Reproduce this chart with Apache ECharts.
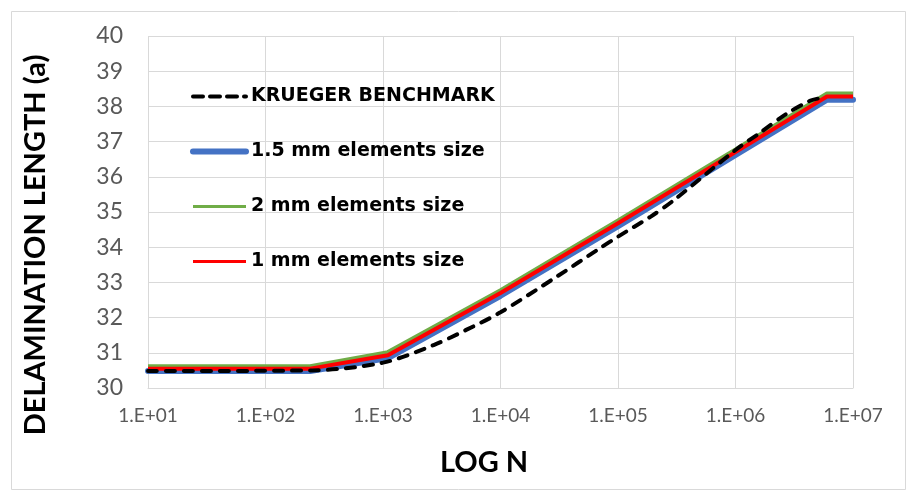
<!DOCTYPE html>
<html>
<head>
<meta charset="utf-8">
<script src="https://cdn.jsdelivr.net/npm/echarts@6/dist/echarts.min.js"></script>
<style>
  html, body { margin: 0; padding: 0; background: #fff; }
  #chart { width: 911px; height: 496px; }
</style>
</head>
<body>
<div id="chart"></div>
<script>
// cycles N vs delamination length
const kruegerN = [10, 250, 1000, 2700, 5100, 10000, 30000, 70000, 100000, 190000, 300000, 1000000, 1600000, 2750000, 4300000, 5000000];
const kruegerA = [30.48, 30.5, 30.72, 31.22, 31.65, 32.15, 33.16, 33.97, 34.3, 34.87, 35.34, 36.76, 37.24, 37.8, 38.16, 38.22];

const meshN = [10, 240, 1100, 10000, 100000, 1000000, 6000000, 10000000];
const mesh15A = [30.48, 30.48, 30.85, 32.62, 34.6, 36.62, 38.19, 38.19];
const mesh2A = [30.62, 30.62, 31.02, 32.78, 34.76, 36.78, 38.37, 38.37];
const mesh1A = [30.55, 30.55, 30.93, 32.7, 34.68, 36.7, 38.28, 38.28];

const seriesNames = ["KRUEGER BENCHMARK", "1.5 mm elements size", "2 mm elements size", "1 mm elements size"];

function pairs(xs, ys) {
  return xs.map((x, i) => [x, ys[i]]);
}

function expLabel(value) {
  const p = Math.round(Math.log10(value));
  return "1.E+" + String(p).padStart(2, "0");
}

const chart = echarts.init(document.getElementById("chart"));

chart.setOption({
  backgroundColor: "#ffffff",
  animation: false,
  grid: { left: 148, right: 58, top: 36, bottom: 108 },
  legend: {
    orient: "vertical",
    left: 185,
    top: 82,
    itemWidth: 53,
    itemHeight: 14,
    itemGap: 36,
    data: [
      { name: seriesNames[0], lineStyle: { width: 4, type: [10, 7], cap: "round" } },
      { name: seriesNames[1], lineStyle: { width: 6, cap: "round" } },
      { name: seriesNames[2], lineStyle: { width: 3 } },
      { name: seriesNames[3], lineStyle: { width: 3 } }
    ],
    itemStyle: { color: "transparent", borderWidth: 0, opacity: 0 },
    textStyle: { fontFamily: "DejaVu Sans", fontWeight: "bold", fontSize: 19, color: "#000" }
  },
  xAxis: {
    type: "log",
    logBase: 10,
    min: 10,
    max: 10000000,
    axisLine: { show: true, lineStyle: { color: "#d9d9d9" } },
    axisTick: { show: false },
    splitLine: { show: true, lineStyle: { color: "#d9d9d9", width: 1 } },
    minorTick: { show: false },
    axisLabel: {
      color: "#595959",
      fontFamily: "Lato",
      fontSize: 19,
      margin: 18,
      formatter: expLabel
    }
  },
  yAxis: {
    type: "value",
    min: 30,
    max: 40,
    interval: 1,
    axisLine: { show: false },
    axisTick: { show: false },
    splitLine: { lineStyle: { color: "#d9d9d9", width: 1 } },
    axisLabel: { color: "#595959", fontFamily: "Lato", fontSize: 23, margin: 25 }
  },
  graphic: [
    {
      type: "rect",
      left: 9, top: 9,
      shape: { width: 894, height: 478 },
      style: { fill: "none", stroke: "#d9d9d9", lineWidth: 1 },
      silent: true
    },
    {
      type: "text",
      x: 36, y: 245,
      rotation: Math.PI / 2,
      style: {
        text: "DELAMINATION LENGTH (a)",
        fontFamily: "Lato", fontWeight: "bold", fontSize: 29, fill: "#000",
        align: "center", verticalAlign: "middle"
      }
    },
    {
      type: "text",
      x: 484, y: 463,
      style: {
        text: "LOG N",
        fontFamily: "Lato", fontWeight: "bold", fontSize: 29, fill: "#000",
        align: "center", verticalAlign: "middle"
      }
    }
  ],
  series: [
    {
      name: seriesNames[1],
      type: "line",
      data: pairs(meshN, mesh15A),
      symbol: "none",
      z: 2,
      lineStyle: { color: "#4472c4", width: 6, cap: "round" },
      itemStyle: { color: "#4472c4" }
    },
    {
      name: seriesNames[2],
      type: "line",
      data: pairs(meshN, mesh2A),
      symbol: "none",
      z: 3,
      lineStyle: { color: "#70ad47", width: 4 },
      itemStyle: { color: "#70ad47" }
    },
    {
      name: seriesNames[3],
      type: "line",
      data: pairs(meshN, mesh1A),
      symbol: "none",
      z: 4,
      lineStyle: { color: "#ff0000", width: 4 },
      itemStyle: { color: "#ff0000" }
    },
    {
      name: seriesNames[0],
      type: "line",
      data: pairs(kruegerN, kruegerA),
      symbol: "none",
      smooth: 0.3,
      z: 5,
      lineStyle: { color: "#000000", width: 4, type: [9, 9], cap: "round" },
      itemStyle: { color: "#000000" }
    }
  ]
});
</script>
</body>
</html>
